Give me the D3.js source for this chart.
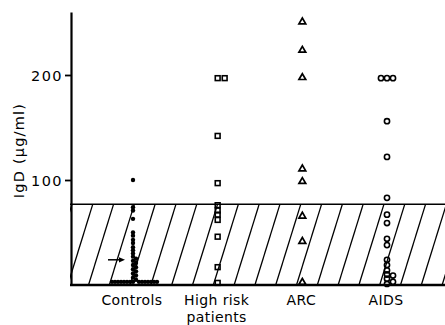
<!DOCTYPE html>
<html>
<head>
<meta charset="utf-8">
<script src="https://cdn.jsdelivr.net/npm/d3@7"></script>
<style>
  body { margin: 0; background: #fff; }
  svg { display: block; }
</style>
</head>
<body>
<svg id="chart" width="445" height="325"></svg>
<script>
// serum IgD by group (ug/ml)
const groups = ['Controls', 'High risk', 'ARC', 'AIDS'];
const groupLabels = [['Controls'], ['High risk', 'patients'], ['ARC'], ['AIDS']];

const controls = [100, 74, 71, 63, 50, 47, 43, 40, 36, 33, 30, 27, 25, 23, 21, 19, 17, 15, 13, 11, 9, 7, 5,
  3, 3, 3, 3, 3, 3, 3, 3, 3, 3, 3, 3, 3, 3, 3];
const highRisk = [197, 197, 142, 97, 76, 71, 67, 62, 46, 17, 2];
const arc = [251, 224, 198, 111, 99, 66, 42, 3];
const aids = [197, 197, 197, 156, 122, 83, 67, 59, 44, 38, 24, 19, 14, 10, 9, 6, 3, 1];

const normalLimit = 77; // upper limit of normal range (hatched)
const yTicks = [100, 200];
const arrowAt = 24;

const width = 445;
const height = 325;
const svg = d3.select('#chart');
const font = '"DejaVu Sans", sans-serif';

const x = d3.scalePoint().domain(groups).range([133, 387]);
const y = d3.scaleLinear().domain([0, 260]).range([285, 12]);

// simple beeswarm: push a point sideways until it clears the ones already placed
function dodge(values, w, h) {
  const placed = [];
  return values.map((v) => {
    const py = y(v);
    let off = 0;
    for (let k = 0; k < 400; k++) {
      const c = k === 0 ? 0 : (k % 2 ? 1 : -1) * Math.ceil(k / 2) * 0.5;
      if (placed.every((p) => Math.abs(p.x - c) >= w - 1e-6 || Math.abs(p.y - py) >= h - 1e-6)) {
        off = c;
        break;
      }
    }
    placed.push({ x: off, y: py });
    return { value: v, dx: off, y: py };
  });
}

// hatched normal range
const clip = svg.append('defs').append('clipPath').attr('id', 'band');
clip.append('rect')
  .attr('x', 70).attr('y', y(normalLimit))
  .attr('width', width - 70).attr('height', y(0) - y(normalLimit));

const bandH = y(0) - y(normalLimit);
svg.append('g')
  .attr('clip-path', 'url(#band)')
  .selectAll('line')
  .data(d3.range(-1, 20))
  .enter()
  .append('line')
  .attr('x1', (k) => 72 + 20.8 * k)
  .attr('y1', y(normalLimit))
  .attr('x2', (k) => 72 + 20.8 * k - bandH * 0.31)
  .attr('y2', y(0))
  .attr('stroke', '#000')
  .attr('stroke-width', 1.3);

svg.append('line')
  .attr('x1', 70).attr('x2', width)
  .attr('y1', y(normalLimit)).attr('y2', y(normalLimit))
  .attr('stroke', '#000')
  .attr('stroke-width', 1.5);

// axes
const yAxis = svg.append('g')
  .attr('transform', 'translate(71,0)')
  .call(d3.axisLeft(y).tickValues(yTicks).tickSize(6).tickSizeOuter(0).tickPadding(2));
yAxis.select('.domain').attr('stroke', '#000').attr('stroke-width', 2.2);
yAxis.selectAll('.tick line').attr('stroke', '#000').attr('stroke-width', 1.8);
yAxis.selectAll('.tick text')
  .attr('font-family', font)
  .attr('font-size', 14.5)
  .attr('letter-spacing', 1.4)
  .attr('fill', '#000')
  .attr('dy', '0.36em');

svg.append('line')
  .attr('x1', 70).attr('x2', width)
  .attr('y1', y(0)).attr('y2', y(0))
  .attr('stroke', '#000')
  .attr('stroke-width', 2.6);

svg.append('text')
  .attr('transform', `translate(24,${(y(0) + y(260)) / 2 + 2}) rotate(-90)`)
  .attr('text-anchor', 'middle')
  .attr('font-family', font)
  .attr('font-size', 14.5)
  .attr('letter-spacing', 1.2)
  .text('IgD (\u03bcg/ml)');

const labels = svg.append('g')
  .selectAll('text')
  .data(groups)
  .enter()
  .append('text')
  .attr('x', (g) => x(g) - 1)
  .attr('y', 305)
  .attr('text-anchor', 'middle')
  .attr('font-family', font)
  .attr('font-size', 14)
  .attr('letter-spacing', 0.4);
labels.selectAll('tspan')
  .data((g, i) => groupLabels[i])
  .enter()
  .append('tspan')
  .attr('x', function () { return d3.select(this.parentNode).attr('x'); })
  .attr('dy', (d, i) => (i === 0 ? 0 : 16.5))
  .text((d) => d);

// controls: filled dots
svg.append('g')
  .selectAll('circle')
  .data(dodge(controls, 2.7, 2.6))
  .enter()
  .append('circle')
  .attr('cx', (d) => x('Controls') + d.dx)
  .attr('cy', (d) => d.y)
  .attr('r', 2.2)
  .attr('fill', '#000');

// high risk: open squares
const sq = 4.8;
svg.append('g')
  .selectAll('rect')
  .data(dodge(highRisk, 7, 4))
  .enter()
  .append('rect')
  .attr('x', (d) => x('High risk') + d.dx - sq / 2)
  .attr('y', (d) => d.y - sq / 2)
  .attr('width', sq)
  .attr('height', sq)
  .attr('fill', 'none')
  .attr('stroke', '#000')
  .attr('stroke-width', 1.6);

// ARC: open triangles
svg.append('g')
  .selectAll('path')
  .data(dodge(arc, 7, 4))
  .enter()
  .append('path')
  .attr('transform', (d) => `translate(${x('ARC') + d.dx},${d.y})`)
  .attr('d', 'M0,-3.4L3.4,2.4L-3.4,2.4Z')
  .attr('fill', 'none')
  .attr('stroke', '#000')
  .attr('stroke-width', 1.7);

// AIDS: open circles
svg.append('g')
  .selectAll('circle')
  .data(dodge(aids, 6, 4))
  .enter()
  .append('circle')
  .attr('cx', (d) => x('AIDS') + d.dx)
  .attr('cy', (d) => d.y)
  .attr('r', 2.6)
  .attr('fill', 'none')
  .attr('stroke', '#000')
  .attr('stroke-width', 1.6);

// arrow in the controls column
const ax = x('Controls');
svg.append('line')
  .attr('x1', ax - 25).attr('x2', ax - 12)
  .attr('y1', y(arrowAt)).attr('y2', y(arrowAt))
  .attr('stroke', '#000')
  .attr('stroke-width', 1.5);
svg.append('path')
  .attr('transform', `translate(${ax - 8},${y(arrowAt)})`)
  .attr('d', 'M0,0L-6,-2.6L-6,2.6Z')
  .attr('fill', '#000');
</script>
</body>
</html>
